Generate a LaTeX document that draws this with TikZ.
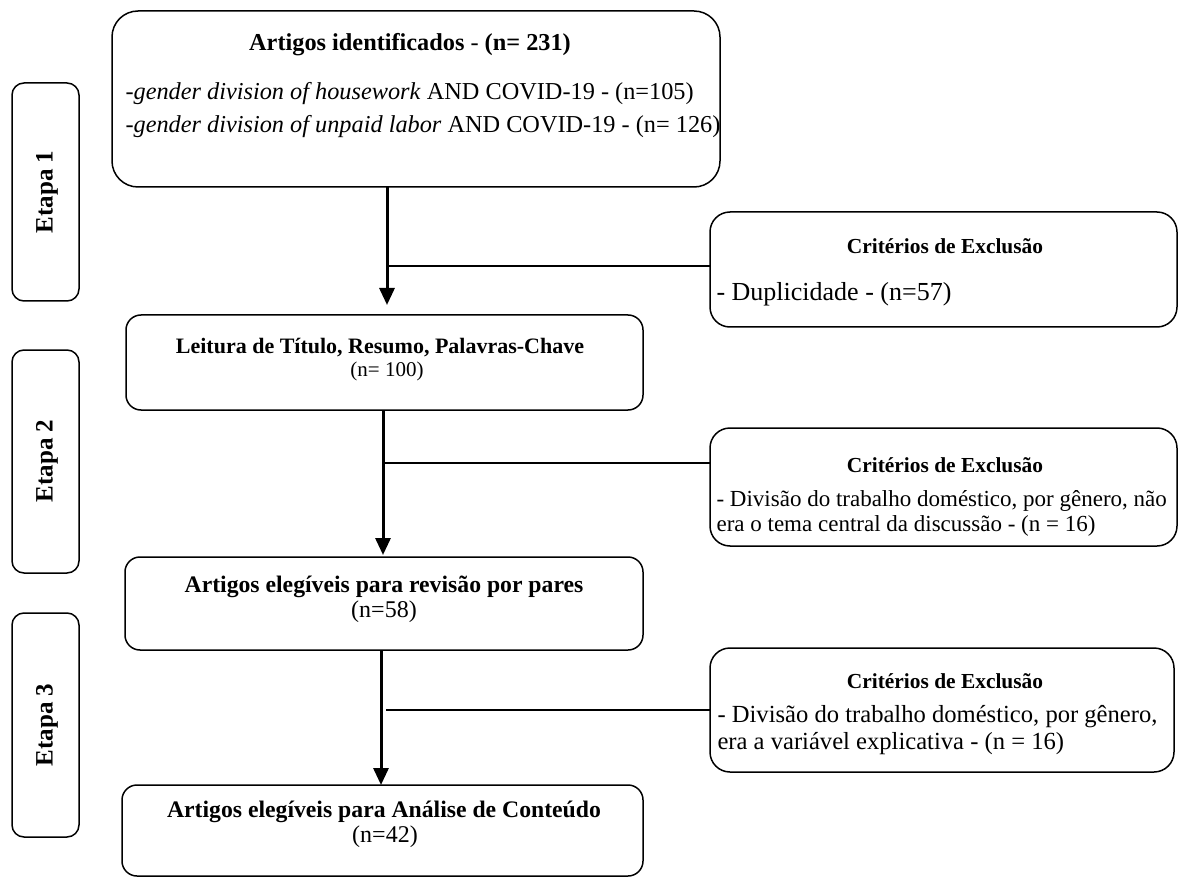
\documentclass[tikz,border=0pt]{standalone}
\usepackage{fontspec}
\setmainfont{Liberation Serif}
\usetikzlibrary{arrows.meta}
\begin{document}
\begin{tikzpicture}[x=1pt,y=-1pt,
  box/.style={draw=black, line width=1.5pt, inner sep=0pt, outer sep=0pt, rounded corners=#1},
  box/.default=16pt,
  arr/.style={line width=3pt, -{Triangle[width=15pt,length=17pt]}},
  link/.style={line width=1.4pt},
  etapa/.style={font=\fontsize{25}{29}\selectfont\bfseries, rotate=90},
  crittitle/.style={font=\fontsize{21.4}{25}\selectfont\bfseries},
  critbody/.style={anchor=west, align=left},
  bigtitle/.style={font=\fontsize{23.7}{28}\selectfont\bfseries},
  ntext/.style={font=\fontsize{24}{28}\selectfont}
]
\useasboundingbox (0,0) rectangle (1178,877);

% stage boxes
\node[box=12pt, minimum width=67pt, minimum height=218pt] (e1) at (45.5,192) {};
\node[box=12pt, minimum width=67pt, minimum height=223pt] (e2) at (45.5,461.5) {};
\node[box=12pt, minimum width=67pt, minimum height=224pt] (e3) at (45.5,725) {};
\node[etapa] (e1t) at (47,192) {Etapa 1};
\node[etapa] (e2t) at (47,461) {Etapa 2};
\node[etapa] (e3t) at (47,725) {Etapa 3};

% main boxes
\node[box=26pt, minimum width=608pt, minimum height=176pt] (b1) at (416,99) {};
\node[box=15pt, minimum width=517pt, minimum height=95pt] (b2) at (384.5,362.5) {};
\node[box=15pt, minimum width=518pt, minimum height=93pt] (b3) at (384,603.5) {};
\node[box=15pt, minimum width=521pt, minimum height=91pt] (b4) at (382.5,830.5) {};

% criteria boxes
\node[box=20pt, minimum width=467pt, minimum height=115pt] (c1) at (943.5,269.5) {};
\node[box=20pt, minimum width=467pt, minimum height=118pt] (c2) at (943.5,487) {};
\node[box=20pt, minimum width=464pt, minimum height=124pt] (c3) at (942,710) {};

% texts box 1
\node[font=\fontsize{24.3}{28}\selectfont] (b1t) at (410,45) {\textbf{Artigos identificados} - \textbf{(n= 231)}};
\node[font=\fontsize{24.3}{28}\selectfont, anchor=west] (b1l1) at (122,94) {-\textit{gender division of housework} AND COVID-19 - (n=105)};
\node[font=\fontsize{24.3}{28}\selectfont, anchor=west] (b1l2) at (122,127) {-\textit{gender division of unpaid labor} AND COVID-19 - (n= 126)};

% texts box 2
\node[font=\fontsize{22}{26}\selectfont\bfseries] (b2t) at (380,348) {Leitura de Título, Resumo, Palavras-Chave};
\node[font=\fontsize{21}{25}\selectfont] (b2n) at (387,371) {(n= 100)};
% texts box 3
\node[bigtitle] (b3t) at (384,587) {Artigos elegíveis para revisão por pares};
\node[ntext] (b3n) at (384,612) {(n=58)};
% texts box 4
\node[bigtitle] (b4t) at (384,812) {Artigos elegíveis para Análise de Conteúdo};
\node[ntext] (b4n) at (385,837) {(n=42)};

% criteria texts
\node[crittitle] (c1t) at (945,246) {Critérios de Exclusão};
\node[critbody, font=\fontsize{26}{30}\selectfont] (c1b) at (713,294) {- Duplicidade - (n=57)};
\node[crittitle] (c2t) at (945,465) {Critérios de Exclusão};
\node[critbody, font=\fontsize{23}{25}\selectfont] (c2b) at (713,513) {- Divisão do trabalho doméstico, por gênero, não\\era o tema central da discussão - (n = 16)};
\node[crittitle] (c3t) at (945,681) {Critérios de Exclusão};
\node[critbody, font=\fontsize{24.6}{27}\selectfont] (c3b) at (714,730) {- Divisão do trabalho doméstico, por gênero,\\era a variável explicativa - (n = 16)};

% junction coordinates
\coordinate (j1) at (388,266);
\coordinate (j2) at (385,463);
\coordinate (j3) at (386,710);
\coordinate (a1) at (387,0);
\coordinate (a2) at (383,0);
\coordinate (a3) at (381,0);

% arrows
\draw[arr, shorten >=10pt] (b1.south -| a1) -- (b2.north -| a1);
\draw[arr, shorten >=2pt] (b2.south -| a2) -- (b3.north -| a2);
\draw[arr] (b3.south -| a3) -- (b4.north -| a3);

% links to criteria
\draw[link] (j1) -- (j1 -| c1.west);
\draw[link] (j2) -- (j2 -| c2.west);
\draw[link] (j3) -- (j3 -| c3.west);
\end{tikzpicture}
\end{document}
